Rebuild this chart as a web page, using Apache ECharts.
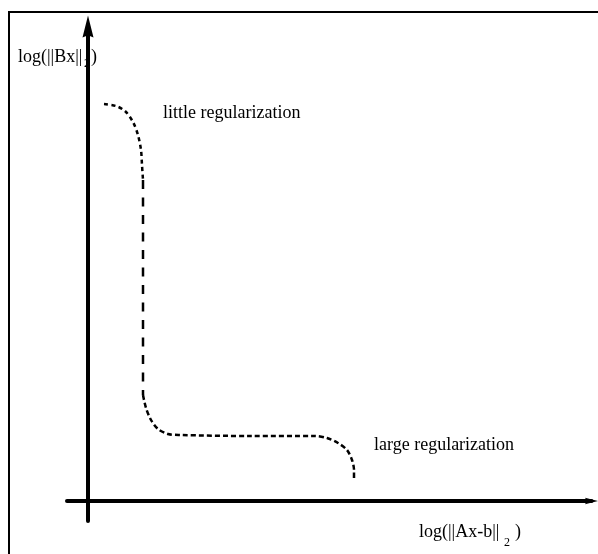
<!DOCTYPE html>
<html>
<head>
<meta charset="utf-8">
<script src="https://cdn.jsdelivr.net/npm/echarts@6/dist/echarts.min.js"></script>
<style>
html,body{margin:0;padding:0;background:#fff;}
#chart{width:598px;height:554px;}
</style>
</head>
<body>
<div id="chart"></div>
<script>
// L-curve sketch: x = log(||Ax-b||_2), y = log(||Bx||_2) (arbitrary units)
const topX = [16, 28, 37, 45, 50, 53, 54, 55];
const topY = [397, 395, 390, 379, 366, 351, 336, 321];
const vertX = [55, 55, 55, 55];
const vertY = [321, 251, 171, 106];
const bottomX = [55, 58, 63, 70, 80, 92, 162, 227, 239, 250, 259, 264, 266, 266];
const bottomY = [106, 93, 81, 72, 67, 66, 65, 65, 63, 58, 51, 41, 31, 23];
const xRange = [-21, 503.5];
const yRange = [-20, 474.5];
const yLabel = ['log(||Bx||', '2', ')'];
const xLabel = ['log(||Ax-b||', '2', ')'];
const notes = ['little regularization', 'large regularization'];

const FONT = '"Liberation Serif", "Times New Roman", serif';
const zip = (xs, ys) => xs.map((x, i) => [x, ys[i]]);

const chart = echarts.init(document.getElementById('chart'), null, {renderer: 'canvas'});

function txt(text, x, y, size) {
  return {
    type: 'text', silent: true, z: 5,
    style: {text: text, x: x, y: y, fontSize: size, fontFamily: FONT, fill: '#000', verticalAlign: 'middle', align: 'left'}
  };
}
function seg(data, dash, smooth) {
  return {
    type: 'line', data: data, smooth: smooth, showSymbol: false,
    lineStyle: {color: '#000', width: 2.5, type: dash}
  };
}

chart.setOption({
  animation: false,
  backgroundColor: '#fff',
  grid: {left: 67, right: 6.5, top: 26.5, bottom: 33, containLabel: false},
  xAxis: {
    type: 'value', min: xRange[0], max: xRange[1],
    axisLine: {show: true, onZero: true, lineStyle: {color: '#000', width: 4},
      symbol: ['none', 'path://M5,0 L10,20 L5,17 L0,20 Z'], symbolSize: [10, 13]},
    axisTick: {show: false}, axisLabel: {show: false}, splitLine: {show: false}
  },
  yAxis: {
    type: 'value', min: yRange[0], max: yRange[1],
    axisLine: {show: true, onZero: true, lineStyle: {color: '#000', width: 4},
      symbol: ['none', 'path://M5,0 L10,20 L5,18 L0,20 Z'], symbolSize: [11, 23]},
    axisTick: {show: false}, axisLabel: {show: false}, splitLine: {show: false}
  },
  series: [
    seg(zip(topX, topY), [4, 3.5], 0.3),
    seg(zip(vertX, vertY), [9, 8.5], false),
    seg(zip(bottomX, bottomY), [5, 3], 0.3)
  ],
  graphic: [
    {type: 'rect', silent: true, z: 0, shape: {x: 9, y: 12, width: 620, height: 580},
     style: {fill: 'none', stroke: '#000', lineWidth: 2}},
    txt(yLabel[0], 18, 57, 18),
    txt(yLabel[1], 84, 64, 12),
    txt(yLabel[2], 91, 57, 18),
    txt(xLabel[0], 419, 532, 18),
    txt(xLabel[1], 504, 543, 12),
    txt(xLabel[2], 515, 532, 18),
    txt(notes[0], 163, 113.5, 18),
    txt(notes[1], 374, 445, 18)
  ]
});
</script>
</body>
</html>
